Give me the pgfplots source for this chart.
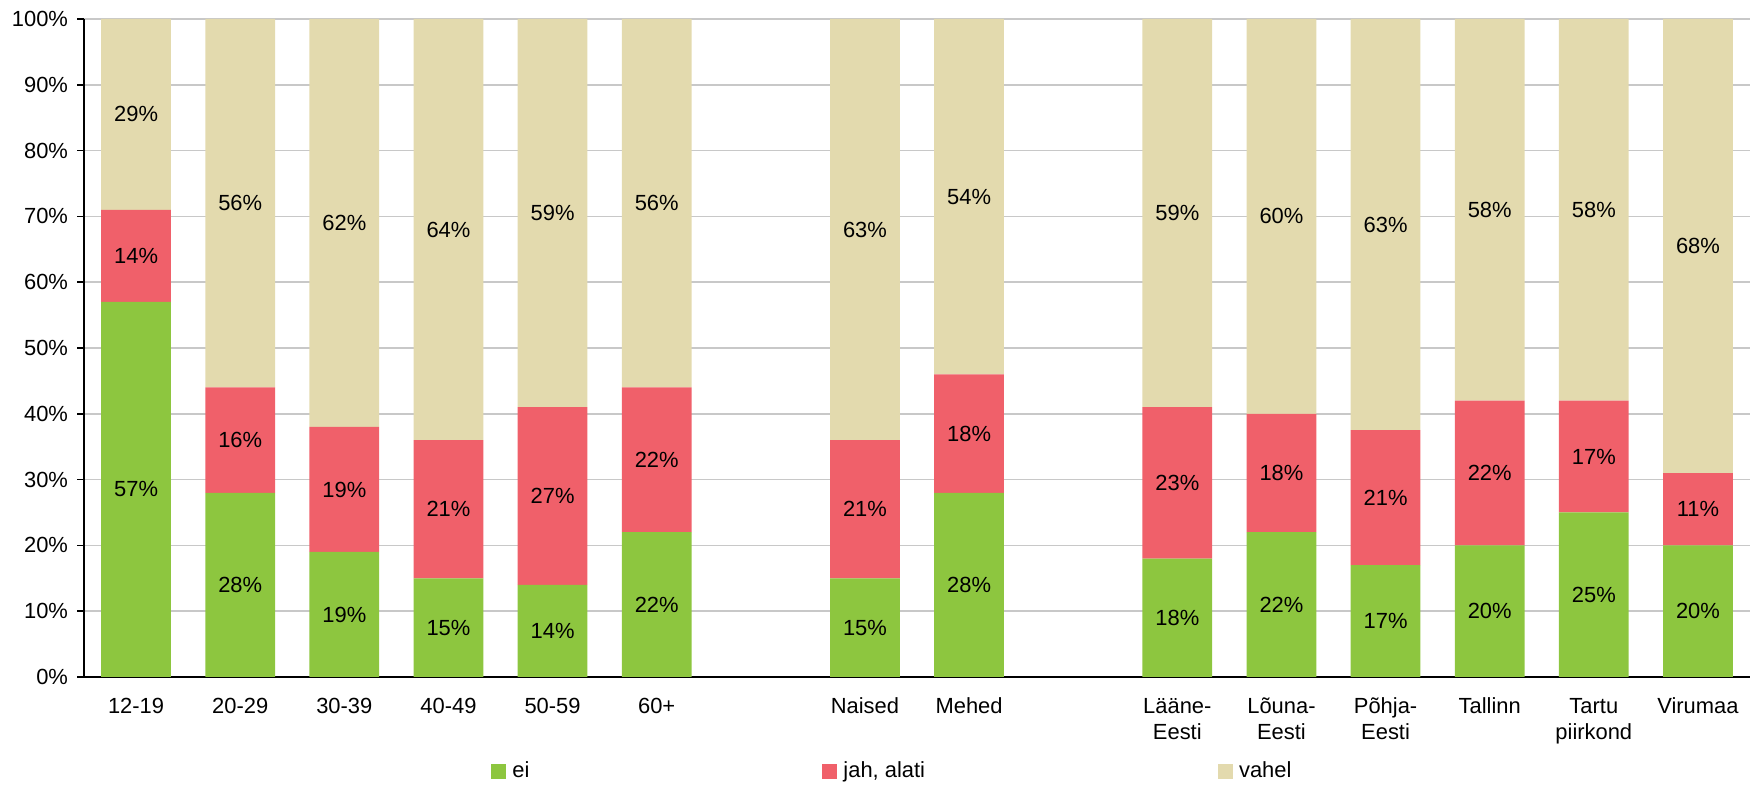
\documentclass[border=0pt]{standalone}
\usepackage{pgfplots}
\usepackage{pgfplotstable}
\pgfplotsset{compat=1.18}
\usepackage{fontspec}
\setmainfont{Liberation Sans}

\definecolor{cei}{RGB}{141,198,63}
\definecolor{cjah}{RGB}{240,96,106}
\definecolor{cvahel}{RGB}{227,218,174}
\definecolor{gridgray}{RGB}{200,200,200}

% ei / jah, alati / vahel, in % of respondents
\pgfplotstableread{
x  ei  jah   vahel
0  57  14    29
1  28  16    56
2  19  19    62
3  15  21    64
4  14  27    59
5  22  22    56
7  15  21    64
8  28  18    54
10 18  23    59
11 22  18    60
12 17  20.5  62.5
13 20  22    58
14 25  17    58
15 20  11    69
}\bars

% label position (middle of segment) and printed value
\pgfplotstableread{
x  y      lab
0  28.5   57
0  64     14
0  85.5   29
1  14     28
1  36     16
1  72     56
2  9.5    19
2  28.5   19
2  69     62
3  7.5    15
3  25.5   21
3  68     64
4  7      14
4  27.5   27
4  70.5   59
5  11     22
5  33     22
5  72     56
7  7.5    15
7  25.5   21
7  68     63
8  14     28
8  37     18
8  73     54
10 9      18
10 29.5   23
10 70.5   59
11 11     22
11 31     18
11 70     60
12 8.5    17
12 27.25  21
12 68.75  63
13 10     20
13 31     22
13 71     58
14 12.5   25
14 33.5   17
14 71     58
15 10     20
15 25.5   11
15 65.5   68
}\labels

\newcommand\cf{\fontsize{11}{13}\selectfont}
% two-line tick label, baseline on the first line
\newcommand\two[2]{\begin{tabular}[t]{@{}c@{}}#1\\#2\end{tabular}}

\begin{document}
\begin{tikzpicture}[font=\cf]
\begin{axis}[
    name=main,
    scale only axis,
    width=833bp, height=329bp,
    ybar stacked,
    bar width=0.67,
    xmin=-0.5, xmax=15.5,
    ymin=0, ymax=100,
    axis lines*=left,
    axis line style={black, line width=0.8pt},
    ymajorgrids,
    grid style={gridgray, line width=0.75bp},
    ytick={0,10,...,100},
    yticklabels={0\%,10\%,20\%,30\%,40\%,50\%,60\%,70\%,80\%,90\%,100\%},
    tick align=outside,
    major tick length=3.5bp,
    ytick style={black, line width=0.8pt},
    xtick={0,1,2,3,4,5,7,8,10,11,12,13,14,15},
    xticklabels={12-19,20-29,30-39,40-49,50-59,60+,Naised,Mehed,
        \two{Lääne-}{Eesti},\two{Lõuna-}{Eesti},\two{Põhja-}{Eesti},
        Tallinn,\two{Tartu}{piirkond},Virumaa},
    xtick style={draw=none},
    extra x ticks={-0.5,0.5,...,15.5},
    extra x tick labels={},
    extra x tick style={grid=none, major tick length=4bp,
        tick style={black, line width=0.8pt, draw=black}},
    tick label style={font=\cf},
    xticklabel style={anchor=base, yshift=-14.75bp},
    yticklabel style={xshift=-1bp},
    legend style={at={(0.2443,0)}, anchor=west, yshift=-47bp,
        draw=none, fill=none, inner sep=0pt, font=\cf,
        legend columns=3,
        nodes={inner sep=0pt},
        /tikz/every odd column/.append style={column sep=3bp},
        /tikz/every even column/.append style={column sep=146.5bp}},
    legend image code/.code={\fill[#1] (0bp,-3.75bp) rectangle (7.5bp,3.75bp);},
]
\addplot[fill=cei, draw=none] table[x=x, y=ei] {\bars};
\addlegendentry{ei}
\addplot[fill=cjah, draw=none] table[x=x, y=jah] {\bars};
\addlegendentry{jah, alati}
\addplot[fill=cvahel, draw=none] table[x=x, y=vahel] {\bars};
\addlegendentry{vahel}
\end{axis}
\begin{axis}[
    scale only axis,
    width=833bp, height=329bp,
    xmin=-0.5, xmax=15.5,
    ymin=0, ymax=100,
    hide axis,
]
\addplot[only marks, mark=none,
    point meta=explicit symbolic,
    nodes near coords={\pgfplotspointmeta\%},
    nodes near coords style={anchor=center, font=\cf, inner sep=0pt},
] table[x=x, y=y, meta=lab] {\labels};
\end{axis}
\pgfresetboundingbox
\path[use as bounding box] ([shift={(-42bp,-55bp)}]main.south west)
    rectangle ([shift={(1bp,9.5bp)}]main.north east);
\end{tikzpicture}
\end{document}
